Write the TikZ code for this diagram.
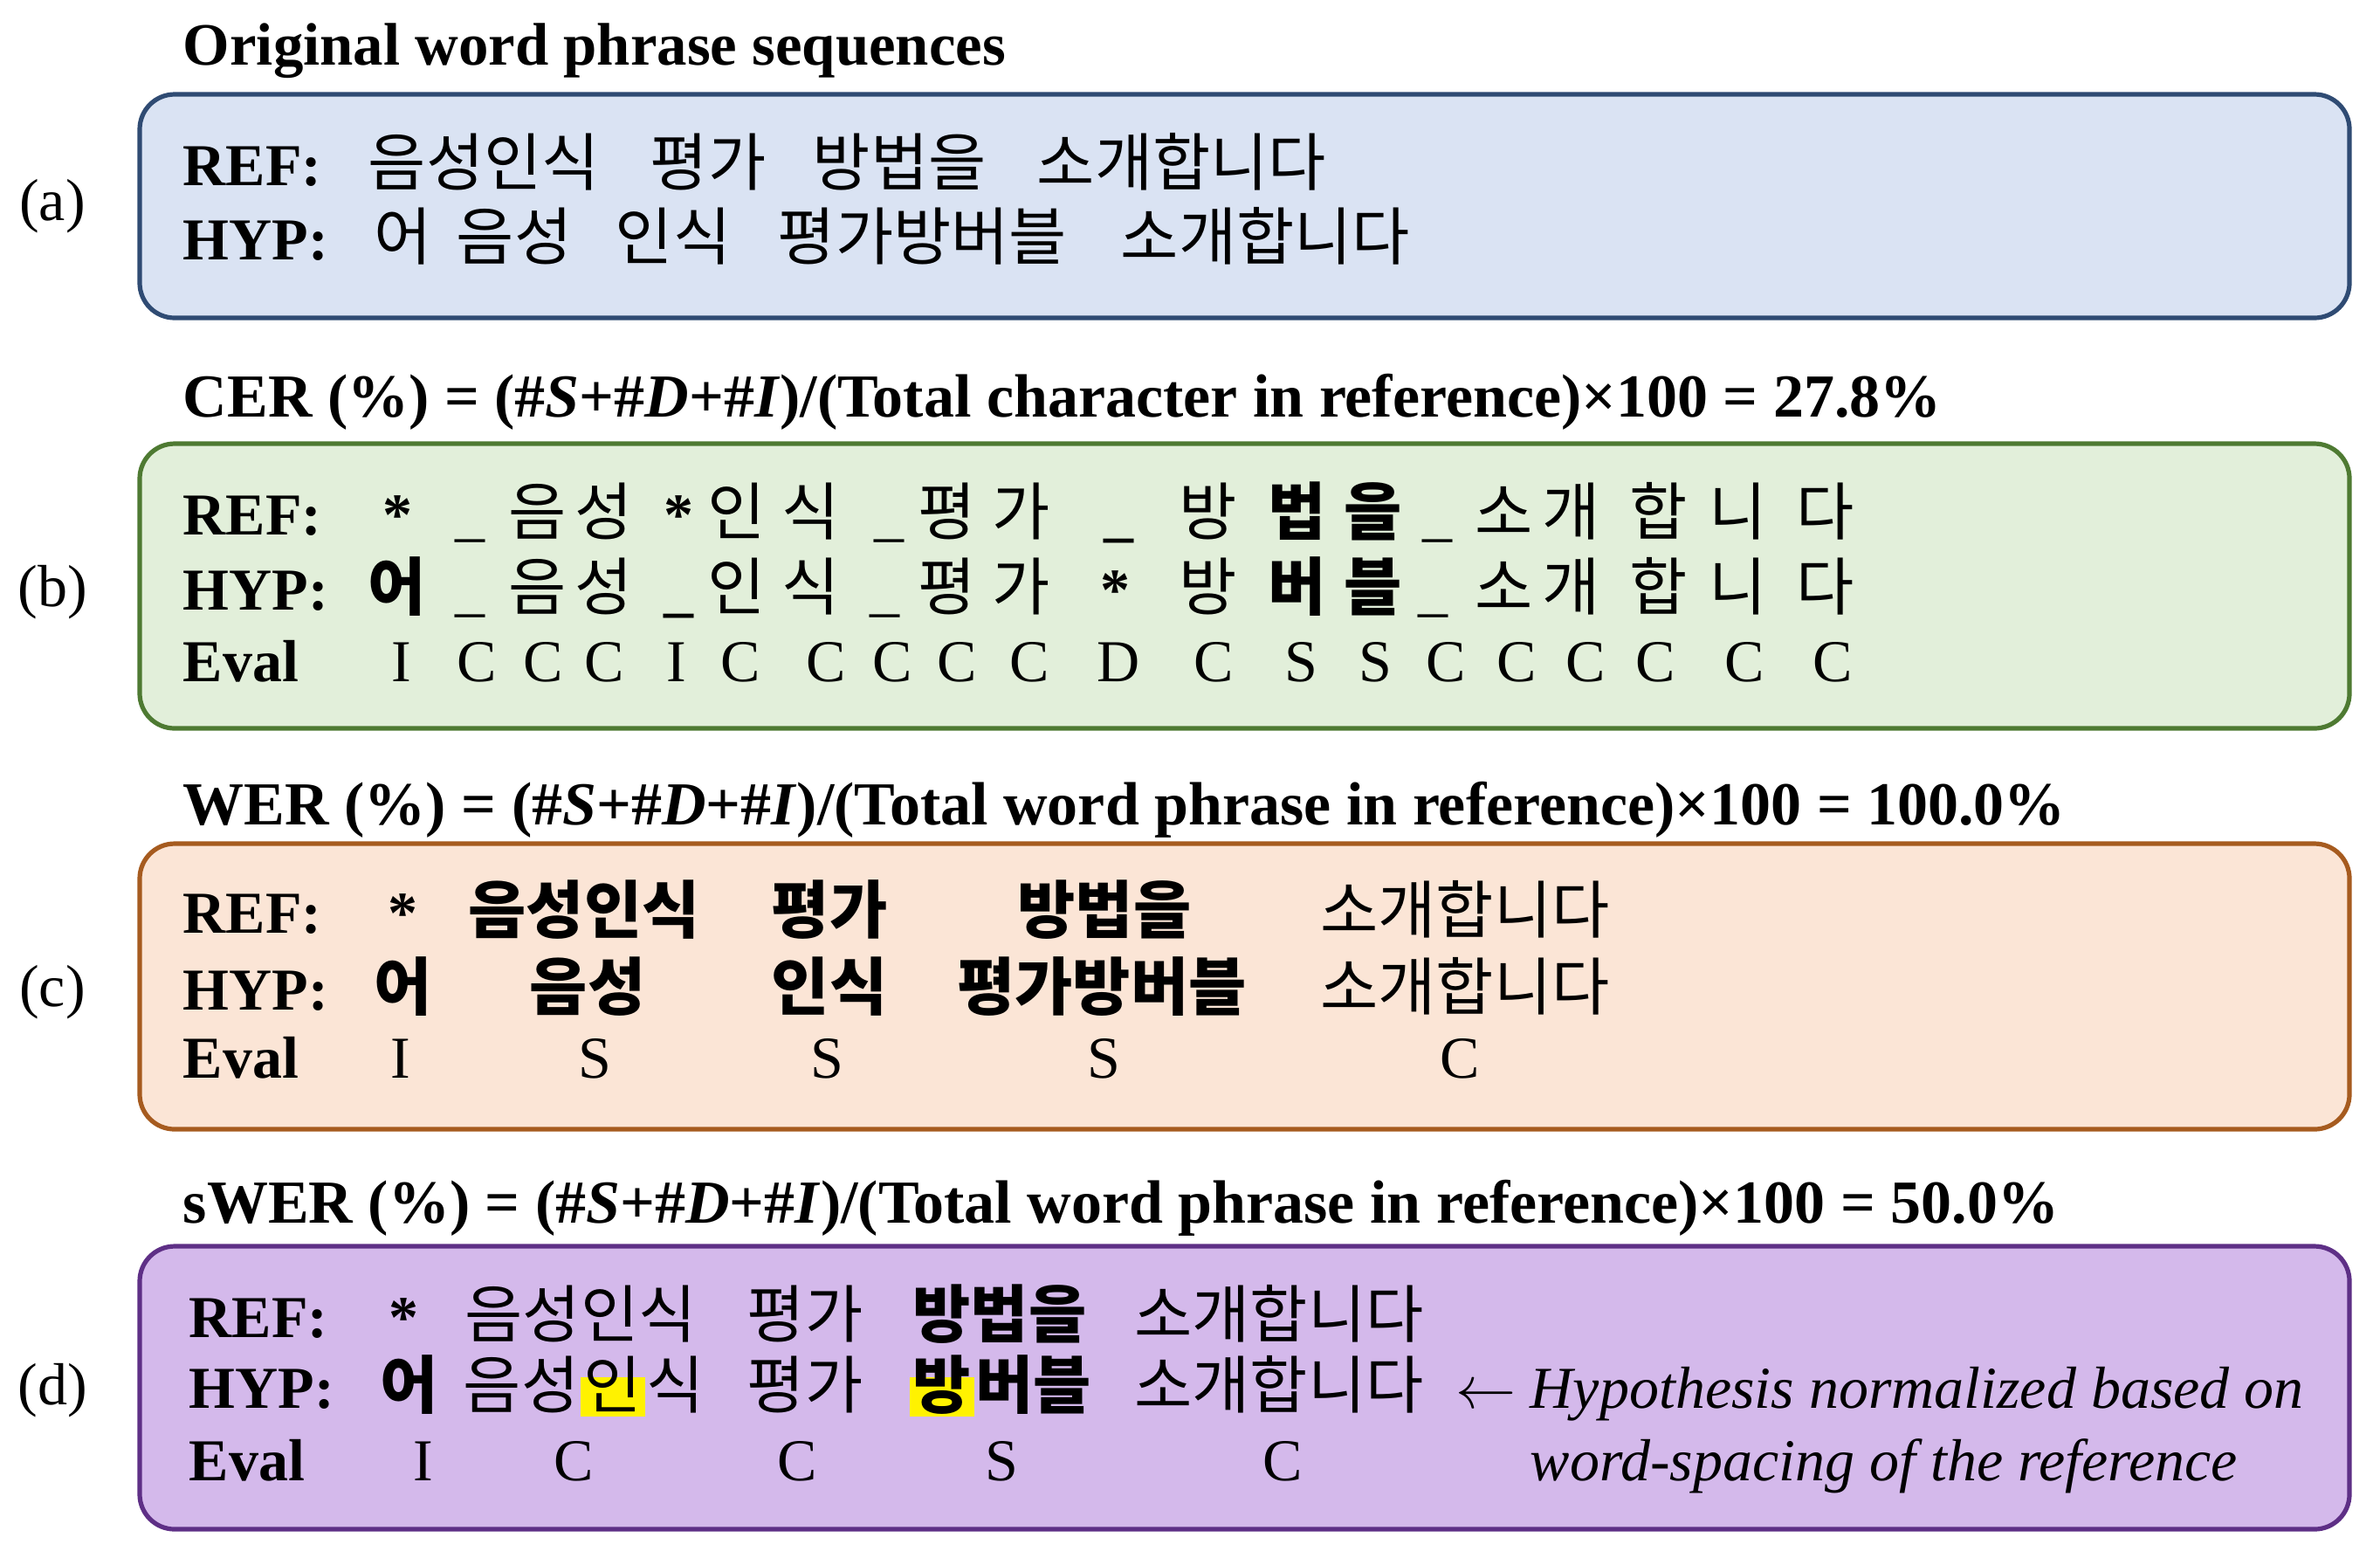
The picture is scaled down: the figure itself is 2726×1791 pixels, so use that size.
\documentclass[tikz,border=0pt]{standalone}
\usepackage{fontspec}
\setmainfont{Liberation Serif}
\newfontfamily\kr{Noto Sans CJK KR}
\newcommand\myastb{{\rmfamily\fontsize{17}{20}\selectfont\bfseries *}}
\newcommand\myus{{\rmfamily\fontsize{17}{20}\selectfont\_}}
\newcommand\myusb{{\rmfamily\fontsize{17}{20}\selectfont\bfseries\_}}
\definecolor{bluefill}{HTML}{DAE3F3}
\definecolor{blueline}{HTML}{2F4B73}
\definecolor{greenfill}{HTML}{E2EFDA}
\definecolor{greenline}{HTML}{4E7A32}
\definecolor{orangefill}{HTML}{FBE5D6}
\definecolor{orangeline}{HTML}{A65B1F}
\definecolor{purplefill}{HTML}{D4B9EB}
\definecolor{purpleline}{HTML}{5E2F86}
\begin{document}
\begin{tikzpicture}[x=0.25pt,y=-0.25pt,
  txt/.style={inner sep=0pt, font=\fontsize{17}{20}\selectfont},
  title/.style={txt, anchor=base west, font=\fontsize{17.5}{20}\selectfont\bfseries},
  rowlbl/.style={txt, anchor=base west, font=\fontsize{17}{20}\selectfont\bfseries},
  panel/.style={txt, anchor=base},
  ko/.style={txt, anchor=base, font=\kr\fontsize{18}{20}\selectfont},
  kow/.style={ko, anchor=base west},
  kob/.style={txt, anchor=base, font=\kr\fontsize{18}{20}\selectfont\bfseries},
  kobw/.style={kob, anchor=base west},
  ev/.style={txt, anchor=base},
  note/.style={txt, anchor=base west, font=\fontsize{17}{20}\selectfont\itshape},
  hl/.style={fill=yellow, inner xsep=1pt, text height=0.88em, text depth=0.26em},
  box/.style={rounded corners=10pt, line width=1.3pt}]
\useasboundingbox (0,0) rectangle (2726,1791);

% ---------- boxes ----------
\draw[box, draw=blueline, fill=bluefill] (160,108) rectangle (2691,364);
\draw[box, draw=greenline, fill=greenfill] (160,508) rectangle (2691,834);
\draw[box, draw=orangeline, fill=orangefill] (160,966) rectangle (2691,1293);
\draw[box, draw=purpleline, fill=purplefill] (160,1427) rectangle (2691,1751);

% ---------- titles ----------
\node[title, font=\fontsize{17.2}{20}\selectfont\bfseries] (t0) at (209,74) {Original word phrase sequences};
\node[title] (t1) at (209,477) {CER (\%) = (\#\textit{S}+\#\textit{D}+\#\textit{I})/(Total character in reference)×100 = 27.8\%};
\node[title] (t2) at (209,944) {WER (\%) = (\#\textit{S}+\#\textit{D}+\#\textit{I})/(Total word phrase in reference)×100 = 100.0\%};
\node[title] (t3) at (209,1400) {sWER (\%) = (\#\textit{S}+\#\textit{D}+\#\textit{I})/(Total word phrase in reference)×100 = 50.0\%};

% ---------- panel labels ----------
\node[panel] (la) at (60,252) {(a)};
\node[panel] (lb) at (60,694) {(b)};
\node[panel] (lc) at (60,1152) {(c)};
\node[panel] (ld) at (60,1608) {(d)};

% ---------- (a) ----------
\node[rowlbl] (a-ref) at (209,212) {REF:};
\node[rowlbl] (a-hyp) at (209,297) {HYP:};
\node[kow] (a-r1) at (421,212) {음성인식};
\node[kow] (a-r2) at (744,212) {평가};
\node[kow] (a-r3) at (930,212) {방법을};
\node[kow] (a-r4) at (1187,212) {소개합니다};
\node[kow] (a-h1) at (428,297) {어};
\node[kow] (a-h2) at (522,297) {음성};
\node[kow] (a-h3) at (704,297) {인식};
\node[kow] (a-h4) at (890,297) {평가방버블};
\node[kow] (a-h5) at (1283,297) {소개합니다};

% ---------- (b) ----------
\node[rowlbl] (b-ref) at (209,612) {REF:};
\node[rowlbl] (b-hyp) at (209,698) {HYP:};
\node[rowlbl] (b-eval) at (209,780) {Eval};
\foreach \x/\t [count=\i] in {455/\myastb, 538/\myus, 616/음, 692/성, 777/\myastb, 844/인, 929/식, 1018/\myus, 1085/평, 1170/가, 1281/\myusb, 1384/방, 1486/{\bfseries 법}, 1573/{\bfseries 을}, 1646/\myus, 1723/소, 1800/개, 1900/합, 1991/니, 2091/다}
  \node[ko] (b-r\i) at (\x,612) {\t};
\foreach \x/\t [count=\i] in {455/{\bfseries 어}, 538/\myus, 616/음, 692/성, 777/\myusb, 844/인, 929/식, 1013/\myus, 1085/평, 1170/가, 1277/\myastb, 1384/방, 1486/{\bfseries 버}, 1573/{\bfseries 블}, 1641/\myus, 1723/소, 1800/개, 1900/합, 1991/니, 2091/다}
  \node[ko] (b-h\i) at (\x,698) {\t};
\foreach \x/\t [count=\i] in {460/I, 546/C, 622/C, 692/C, 775/I, 848/C, 946/C, 1022/C, 1096/C, 1179/C, 1281/D, 1390/C, 1490/S, 1575/S, 1656/C, 1737/C, 1816/C, 1896/C, 1998/C, 2099/C}
  \node[ev] (b-e\i) at (\x,780) {\t};

% ---------- (c) ----------
\node[rowlbl] (c-ref) at (209,1068) {REF:};
\node[rowlbl] (c-hyp) at (209,1156) {HYP:};
\node[rowlbl] (c-eval) at (209,1234) {Eval};
\node[ko] (c-r1) at (461,1068) {\myastb};
\node[kob] (c-r2) at (669,1068) {음성인식};
\node[kob] (c-r3) at (950,1068) {평가};
\node[kob] (c-r4) at (1265,1068) {방법을};
\node[ko] (c-r5) at (1678,1068) {소개합니다};
\node[kob] (c-h1) at (462,1156) {어};
\node[kob] (c-h2) at (673,1156) {음성};
\node[kob] (c-h3) at (950,1156) {인식};
\node[kob] (c-h4) at (1262,1156) {평가방버블};
\node[ko] (c-h5) at (1678,1156) {소개합니다};
\node[ev] (c-e1) at (459,1234) {I};
\node[ev] (c-e2) at (681,1234) {S};
\node[ev] (c-e3) at (947,1234) {S};
\node[ev] (c-e4) at (1264,1234) {S};
\node[ev] (c-e5) at (1672,1234) {C};

% ---------- (d) ----------
\node[rowlbl] (d-ref) at (216,1531) {REF:};
\node[rowlbl] (d-hyp) at (216,1612) {HYP:};
\node[rowlbl] (d-eval) at (216,1695) {Eval};
\node[ko] (d-r1) at (462,1531) {\myastb};
\node[ko] (d-r2) at (665,1531) {음성인식};
\node[ko] (d-r3) at (922,1531) {평가};
\node[kob] (d-r4) at (1145,1531) {방법을};
\node[ko] (d-r5) at (1465,1531) {소개합니다};
\node[kob] (d-h1) at (469,1612) {어};
\node[kow] (d-h2a) at (530,1612) {음성};
\node[kow, hl] (d-h2b) at (d-h2a.base east) {인};
\node[kow] (d-h2c) at (d-h2b.base east) {식};
\node[ko] (d-h3) at (922,1612) {평가};
\node[kobw, hl] (d-h4a) at (1041,1612) {방};
\node[kobw] (d-h4b) at (d-h4a.base east) {버블};
\node[ko] (d-h5) at (1465,1612) {소개합니다};
\node[ev] (d-arrow) at (1702,1612) {$\leftarrow$};
\node[note] (d-note1) at (1752,1612) {Hypothesis normalized based on};
\node[ev] (d-e1) at (485,1695) {I};
\node[ev] (d-e2) at (657,1695) {C};
\node[ev] (d-e3) at (913,1695) {C};
\node[ev] (d-e4) at (1147,1695) {S};
\node[ev] (d-e5) at (1469,1695) {C};
\node[note] (d-note2) at (1752,1695) {word-spacing of the reference};
\end{tikzpicture}
\end{document}
